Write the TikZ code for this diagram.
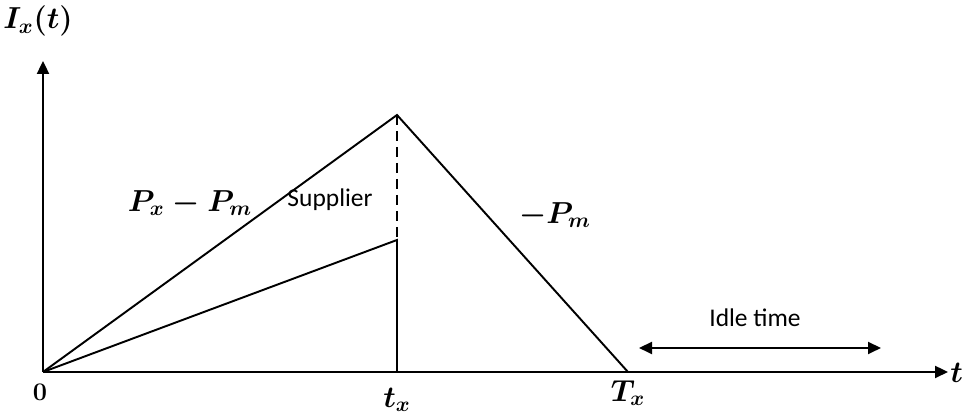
\documentclass[tikz,border=0pt]{standalone}
\usepackage{amsmath, amssymb}
\usepackage{fontspec}
\newfontfamily\labelfont{Carlito}
\usepackage{tikz}
\usetikzlibrary{arrows.meta}

\tikzset{
    mathlabel/.style={font=\fontsize{17}{20}\selectfont, inner sep=0pt},
    wordlabel/.style={font=\labelfont\fontsize{14.5}{17}\selectfont, inner sep=0pt},
    graphline/.style={line width=1.1pt},
    axisline/.style={line width=1.3pt, -{Triangle[length=2.6mm, width=2.4mm]}}
}

\begin{document}
\begin{tikzpicture}[x=2mm, y=2mm]
    \useasboundingbox (0, 0) rectangle (96.5, 41.5);

    % Key points
    \coordinate (O) at (4.3, 4.3);
    \coordinate (Ytop) at (4.3, 35.4);
    \coordinate (Xend) at (94.8, 4.3);
    \coordinate (Peak) at (39.7, 30.0);
    \coordinate (Mid) at (39.7, 17.5);
    \coordinate (Foot) at (39.7, 4.3);
    \coordinate (Tx) at (62.8, 4.3);
    \coordinate (IdleL) at (63.9, 6.7);
    \coordinate (IdleR) at (88.1, 6.7);

    % Axes
    \draw[axisline] (O) -- (Ytop);
    \draw[axisline] (O) -- (Xend);

    % Axis labels
    \node[mathlabel] (ylab) at (3.8, 39.4) {$\boldsymbol{I_x(t)}$};
    \node[mathlabel, anchor=west] (xlab) at (95.0, 4.2) {$\boldsymbol{t}$};
    \node[mathlabel, font=\fontsize{14}{16}\selectfont] (zero) at (4.0, 2.3) {$\boldsymbol{0}$};
    \node[mathlabel] (tx) at (39.7, 1.5) {$\boldsymbol{t_x}$};
    \node[mathlabel] (Tlab) at (62.8, 2.2) {$\boldsymbol{T_x}$};

    % Inventory triangle
    \draw[graphline] (O) -- (Peak) -- (Tx);
    \draw[graphline, dash pattern=on 2mm off 1.2mm] (Peak) -- (Mid);

    % Supplier part
    \draw[graphline] (O) -- (Mid) -- (Foot);

    % Slope labels
    \node[mathlabel] (rise) at (19.0, 21.2) {$\boldsymbol{P_x - P_m}$};
    \node[wordlabel] (supplier) at (33.0, 21.5) {Supplier};
    \node[mathlabel] (fall) at (55.5, 20.0) {$\boldsymbol{-P_m}$};

    % Idle time
    \draw[graphline, {Triangle[length=2.6mm, width=2.4mm]}-{Triangle[length=2.6mm, width=2.4mm]}] (IdleL) -- (IdleR);
    \node[wordlabel] (idle) at (75.5, 9.7) {Idle time};
\end{tikzpicture}
\end{document}
